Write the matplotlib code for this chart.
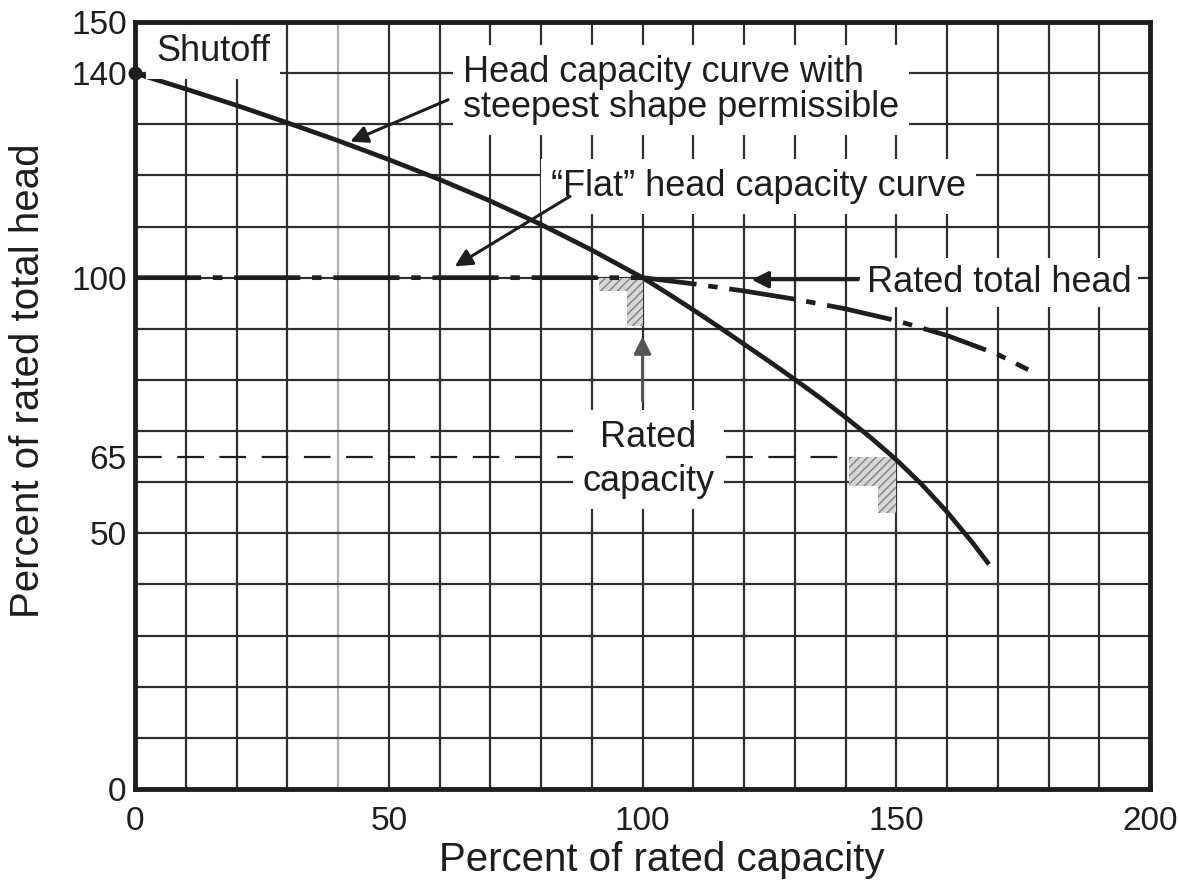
import matplotlib
matplotlib.use("Agg")
import matplotlib.pyplot as plt
import numpy as np

# Steepest permissible head-capacity curve (percent of rated capacity, percent of rated head)
steep_x = [0, 10, 20, 30, 40, 50, 60, 70, 80, 90, 100, 105, 110, 115, 120, 125, 130,
           135, 140, 145, 150, 155, 160, 165, 168]
steep_y = [140, 136.9, 133.7, 130.3, 126.8, 123.1, 119.2, 115.0, 110.4, 105.4, 100,
           96.9, 93.7, 90.4, 87.0, 83.6, 80.1, 76.5, 72.7, 68.7, 64.4, 59.6, 54.2, 48.2, 44.3]

# "Flat" head-capacity curve
flat_x = [0, 20, 40, 60, 80, 100, 110, 120, 130, 140, 150, 160, 170, 176]
flat_y = [100, 100, 100, 100, 100, 100, 98.8, 97.4, 95.8, 93.9, 91.6, 88.7, 85.0, 82.0]

shutoff_x, shutoff_y = 0, 140
rated_capacity, rated_head = 100, 100
min_head, min_head_end = 65, 141

# hatched tolerance patches at the rated point and the 150 % / 65 % point
patch_rated_x = [91.5, 100, 100, 97, 97, 91.5]
patch_rated_y = [100, 100, 90.5, 90.5, 97.3, 97.3]
patch_low_x = [140.6, 150, 150, 146.5, 146.5, 140.6]
patch_low_y = [65, 65, 54, 54, 59.2, 59.2]

x_ticks = [0, 50, 100, 150, 200]
y_ticks = [0, 50, 65, 100, 140, 150]

plt.rcParams["font.family"] = ["Liberation Sans", "DejaVu Sans"]
INK = "#1e1e1e"
GRID = "#2e2e2e"

fig = plt.figure(figsize=(11.79, 8.88), dpi=100)
ax = fig.add_axes([135 / 1179, 1 - 789 / 888, (1150 - 135) / 1179, (789 - 22) / 888])
ax.set_xlim(0, 200)
ax.set_ylim(0, 150)

# grid every 10 units
for gx in np.arange(10, 200, 10):
    ax.axvline(gx, color="#b0b0b0" if gx == 40 else GRID, lw=1.6, zorder=1)
for gy in np.arange(10, 150, 10):
    ax.axhline(gy, color=GRID, lw=1.6, zorder=1)

ax.fill(patch_rated_x, patch_rated_y, facecolor="#d6d6d6", edgecolor="#808080",
        hatch="////", lw=0, zorder=2)
ax.fill(patch_low_x, patch_low_y, facecolor="#d6d6d6", edgecolor="#808080",
        hatch="////", lw=0, zorder=2)

ax.plot([0, min_head_end], [min_head, min_head], color=INK, lw=1.6,
        ls=(0, (12, 7)), zorder=3)
ax.plot(flat_x, flat_y, color=INK, lw=3.4, ls=(0, (14, 2.5, 2, 2.5)), zorder=4)
ax.plot(steep_x, steep_y, color=INK, lw=3.4, solid_joinstyle="round", zorder=4)
ax.plot([shutoff_x], [shutoff_y], "o", color=INK, ms=9, zorder=8, clip_on=False)

fs = 26
box = dict(facecolor="white", edgecolor="none", pad=7)
ax.text(15.4, 142.3, "Shutoff", fontsize=fs, ha="center", va="baseline",
        color=INK, bbox=box, zorder=5)
# multi-line texts: va="baseline" anchors the last line
ax.text(64.6, 131.4, "Head capacity curve with\nsteepest shape permissible", fontsize=fs,
        ha="left", va="baseline", color=INK, linespacing=1.0, bbox=box, zorder=5)
ax.text(82, 116, "\u201cFlat\u201d head capacity curve", fontsize=fs, ha="left",
        va="baseline", color=INK, bbox=box, zorder=5)
ax.text(144.2, 97.2, "Rated total head", fontsize=fs, ha="left", va="baseline",
        color=INK, bbox=dict(box, pad=5), zorder=5)
ax.text(101.2, 58.2, "Rated\ncapacity", fontsize=fs, ha="center", va="baseline",
        color=INK, linespacing=1.35, bbox=box, zorder=5)

arrow = dict(arrowstyle="-|>", mutation_scale=26, lw=2.2, color=INK, shrinkA=0, shrinkB=0)
ax.annotate("", xy=(42.4, 126.6), xytext=(61.7, 134.8), arrowprops=arrow, zorder=6)
ax.annotate("", xy=(63, 102.2), xytext=(85.7, 115.9), arrowprops=arrow, zorder=6)
ax.annotate("", xy=(121.5, 99.6), xytext=(142.5, 99.6), arrowprops=arrow, zorder=6)
ax.annotate("", xy=(rated_capacity, 88.5), xytext=(rated_capacity, 76),
            arrowprops=dict(arrow, color="#555555"), zorder=6)

ax.set_xticks(x_ticks)
ax.set_yticks(y_ticks)
ax.tick_params(length=0, labelsize=24, colors=INK)
ax.tick_params(axis="x", pad=12)
ax.tick_params(axis="y", pad=6)
for s in ax.spines.values():
    s.set_linewidth(3.5)
    s.set_color(INK)
    s.set_zorder(7)

ax.set_xlabel("Percent of rated capacity", fontsize=29, color=INK)
ax.set_ylabel("Percent of rated total head", fontsize=29, color=INK)
ax.xaxis.set_label_coords(0.519, -0.068)
ax.yaxis.set_label_coords(-0.087, 0.533)

fig.savefig("out.png", dpi=100)
